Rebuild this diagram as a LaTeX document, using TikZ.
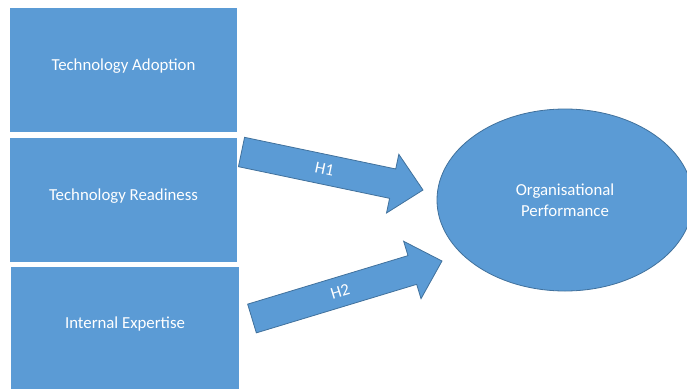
\documentclass[tikz,border=0pt]{standalone}
\usepackage{fontspec}
\setmainfont{Carlito}
\usetikzlibrary{shapes.geometric,calc,positioning}
\definecolor{boxblue}{HTML}{5B9BD5}
\definecolor{edgeblue}{HTML}{41719C}
\begin{document}
\begin{tikzpicture}[x=1pt,y=-1pt,
    factor/.style={rectangle, fill=boxblue, text=white, minimum width=227pt,
                   minimum height=124pt, inner sep=0pt, text height=12pt, text depth=12pt},
    outcome/.style={ellipse, fill=boxblue, draw=edgeblue, line width=0.8pt,
                    text=white, minimum width=256pt, minimum height=182pt,
                    align=center, inner sep=0pt},
    hyp/.style={fill=boxblue, draw=edgeblue, line width=0.8pt, line join=miter}]
  \fontsize{16.8}{21.5}\selectfont
  \useasboundingbox (0,0) rectangle (687,388);
  \node[factor] (adoption) at (123.5,70) {Technology Adoption};
  \node[factor, below=6pt of adoption] (readiness) {Technology Readiness};
  \node[factor, minimum width=228pt, minimum height=122pt] (expertise) at (125,328) {Internal Expertise};
  \node[outcome] (perf) at (565,200) {Organisational\\Performance};
  % hypotheses
  \coordinate (tail1) at (241.5,152); \coordinate (tip1) at (423,190);
  \coordinate (tail2) at (252,318.5); \coordinate (tip2) at (442,261);
  \foreach \n/\lab in {1/H1, 2/H2} {
    \coordinate (base\n) at ($(tip\n)!31pt!(tail\n)$);
    \draw[hyp] ($(tail\n)!15pt!90:(tip\n)$) -- ($(base\n)!15pt!90:(tip\n)$)
      -- ($(base\n)!30pt!90:(tip\n)$) -- (tip\n) -- ($(base\n)!30pt!-90:(tip\n)$)
      -- ($(base\n)!15pt!-90:(tip\n)$) -- ($(tail\n)!15pt!-90:(tip\n)$) -- cycle;
    \path (tail\n) -- (base\n) node[pos=0.55, sloped, text=white] {\lab};
  }
\end{tikzpicture}
\end{document}
